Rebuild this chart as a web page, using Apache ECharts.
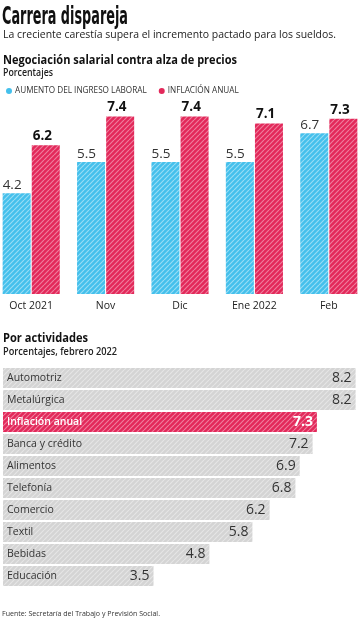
<!DOCTYPE html>
<html><head><meta charset="utf-8">
<script src="https://cdn.jsdelivr.net/npm/echarts@6/dist/echarts.min.js"></script>
<style>html,body{margin:0;padding:0;background:#fff;overflow:hidden;width:359px;height:620px}#c{position:absolute;left:-6px;top:0;width:372px;height:620px}</style>
</head><body><div id="c"></div>
<script>
// ---- data ----
const months = ['Oct 2021', 'Nov', 'Dic', 'Ene 2022', 'Feb'];
const ingresoLaboral = [4.2, 5.5, 5.5, 5.5, 6.7];
const inflacionAnual = [6.2, 7.4, 7.4, 7.1, 7.3];
const actividades = ['Automotriz', 'Metalúrgica', 'Inflación anual', 'Banca y crédito', 'Alimentos', 'Telefonía', 'Comercio', 'Textil', 'Bebidas', 'Educación'];
const actividadValores = [8.2, 8.2, 7.3, 7.2, 6.9, 6.8, 6.2, 5.8, 4.8, 3.5];
const destacado = 'Inflación anual';
const seriesNames = ['AUMENTO DEL INGRESO LABORAL', 'INFLACIÓN ANUAL'];

// ---- styles ----
const OX = 6; // container offset (chart div starts 6px left of the page)
const BLUE = '#44c0ec', RED = '#e3285a', GRAY = '#d4d4d4';
const SANS = '"Open Sans", "Noto Sans", sans-serif';
function hatch(base, stripe, alpha) {
  const s = 5;
  const c = document.createElement('canvas');
  c.width = s; c.height = s;
  const g = c.getContext('2d');
  g.fillStyle = base; g.fillRect(0, 0, s, s);
  g.globalAlpha = alpha; g.strokeStyle = stripe; g.lineWidth = 1.2;
  g.beginPath();
  for (let k = -1; k <= 1; k++) { g.moveTo(k * s, s); g.lineTo(k * s + s, 0); }
  g.stroke();
  return { image: c, repeat: 'repeat' };
}
const mctx = document.createElement('canvas').getContext('2d');
function fitText(text, x, y, size, weight, family, width, color) {
  mctx.font = weight + ' ' + size + 'px ' + family;
  const w = mctx.measureText(text).width;
  return { type: 'text', x: x + OX, y: y, scaleX: width / w, silent: true,
    style: { text: text, fontSize: size, fontWeight: weight, fontFamily: family, fill: color || '#111', verticalAlign: 'middle' } };
}

const chart = echarts.init(document.getElementById('c'), null, { renderer: 'canvas' });
const pBlue = hatch(BLUE, '#ffffff', 0.45), pRed = hatch(RED, '#ffffff', 0.4), pGray = hatch(GRAY, '#ffffff', 0.4);

const actData = actividadValores.map((v, i) => {
  const hl = actividades[i] === destacado;
  return { value: v, itemStyle: { color: hl ? pRed : pGray },
    label: { color: hl ? '#fff' : '#333', fontWeight: hl ? 'bold' : 'normal' } };
});
const actNames = actividadValores.map((v, i) => {
  const hl = actividades[i] === destacado;
  return { value: v, label: { color: hl ? '#fff' : '#333', fontWeight: hl ? 600 : 'normal' } };
});

chart.setOption({
  animation: false,
  backgroundColor: '#fff',
  graphic: [
    fitText('Carrera dispareja', 2, 17, 25, 'bold', '"Liberation Sans Narrow", "DejaVu Sans Condensed", sans-serif', 126, '#111'),
    fitText('La creciente carestía supera el incremento pactado para los sueldos.', 3, 34.5, 11.5, 'normal', SANS, 333, '#222'),
    fitText('Negociación salarial contra alza de precios', 3, 60.5, 12.5, 'bold', SANS, 234, '#111'),
    fitText('Porcentajes', 3, 73, 10, 600, SANS, 50, '#222'),
    fitText('Por actividades', 3, 338, 12.5, 'bold', SANS, 85, '#111'),
    fitText('Porcentajes, febrero 2022', 3, 352, 10, 600, SANS, 114, '#222'),
    fitText('Fuente: Secretaría del Trabajo y Previsión Social.', 2, 614, 7.5, 'normal', SANS, 158, '#333')
  ],
  legend: {
    left: 1 + OX, top: 82, itemWidth: 6, itemHeight: 6, itemGap: 12, icon: 'circle',
    selectedMode: false,
    textStyle: { fontSize: 8.2, color: '#333', fontFamily: SANS, padding: [0, 0, 0, -2] },
    data: [{ name: seriesNames[0], itemStyle: { color: BLUE } }, { name: seriesNames[1], itemStyle: { color: RED } }]
  },
  grid: [
    { left: 0, right: 0, top: 102, bottom: 326 },
    { left: 3 + OX, right: 10.4, top: 367, bottom: 33 }
  ],
  xAxis: [
    { type: 'category', gridIndex: 0, data: months, axisLine: { show: false }, axisTick: { show: false },
      axisLabel: { fontSize: 10.5, color: '#222', fontFamily: SANS, margin: 7 } },
    { type: 'value', gridIndex: 1, min: 0, max: 8.2, show: false }
  ],
  yAxis: [
    { type: 'value', gridIndex: 0, min: 0, max: 8, show: false },
    { type: 'category', gridIndex: 1, data: actividades, inverse: true, show: false }
  ],
  series: [
    { name: seriesNames[0], type: 'bar', xAxisIndex: 0, yAxisIndex: 0, data: ingresoLaboral,
      barWidth: 28, barGap: '4%', itemStyle: { color: pBlue },
      label: { show: true, position: [0, -15], fontSize: 13.5, color: '#333', fontFamily: SANS } },
    { name: seriesNames[1], type: 'bar', xAxisIndex: 0, yAxisIndex: 0, data: inflacionAnual,
      barWidth: 28, barGap: '4%', itemStyle: { color: pRed },
      label: { show: true, position: [1, -16], fontSize: 13.5, fontWeight: 'bold', color: '#111', fontFamily: SANS } },
    { name: 'actividades', type: 'bar', xAxisIndex: 1, yAxisIndex: 1, data: actData, barWidth: 20,
      label: { show: true, position: 'insideRight', distance: 4, fontSize: 14, fontFamily: SANS } },
    { name: 'nombres', type: 'bar', xAxisIndex: 1, yAxisIndex: 1, data: actNames, barWidth: 20, barGap: '-100%',
      itemStyle: { color: 'rgba(0,0,0,0)' }, silent: true,
      label: { show: true, position: 'insideLeft', distance: 4, fontSize: 10.5, fontFamily: SANS, formatter: '{b}' } }
  ]
});
</script></body></html>
